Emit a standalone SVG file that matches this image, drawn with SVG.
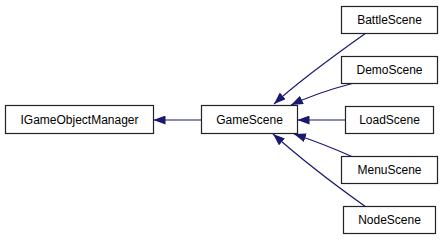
<svg xmlns="http://www.w3.org/2000/svg" width="443" height="240" viewBox="0 0 443 240">
  <defs>
    <marker id="arrow" viewBox="0 0 12 9" refX="12" refY="4.5" markerWidth="12" markerHeight="9" markerUnits="userSpaceOnUse" orient="auto">
      <path d="M0,0 L12,4.5 L0,9 Z" fill="#191970"/>
    </marker>
    <style>
      .box { fill: #ffffff; stroke: #222222; stroke-width: 1.2; }
      .label { font-family: "Liberation Sans", Arial, sans-serif; font-size: 12px; fill: #000000; text-anchor: middle; }
      .edge { fill: none; stroke: #191970; stroke-width: 1.2; marker-end: url(#arrow); }
    </style>
  </defs>
  <rect width="443" height="240" fill="#ffffff"/>

  <g id="edges">
    <path class="edge" d="M201,120 L153.5,120"/>
    <path class="edge" d="M366,33 C335,55 300,80 274,104"/>
    <path class="edge" d="M354,83 C335,88 310,96 291,105"/>
    <path class="edge" d="M345,120 L297.5,120"/>
    <path class="edge" d="M353,157 C335,149 312,140 294,134"/>
    <path class="edge" d="M366,207 C335,185 300,158 273,134"/>
  </g>

  <g id="IGameObjectManager">
    <rect class="box" x="5.5" y="105.5" width="148" height="28"/>
    <text class="label" x="79.5" y="124">IGameObjectManager</text>
  </g>
  <g id="GameScene">
    <rect class="box" x="201.5" y="105.5" width="96" height="28"/>
    <text class="label" x="249.5" y="124">GameScene</text>
  </g>
  <g id="BattleScene">
    <rect class="box" x="341.5" y="6.5" width="96" height="27"/>
    <text class="label" x="389.5" y="24">BattleScene</text>
  </g>
  <g id="DemoScene">
    <rect class="box" x="341.5" y="56.5" width="96" height="27"/>
    <text class="label" x="389.5" y="74">DemoScene</text>
  </g>
  <g id="LoadScene">
    <rect class="box" x="345.5" y="106.5" width="88" height="27"/>
    <text class="label" x="389.5" y="124">LoadScene</text>
  </g>
  <g id="MenuScene">
    <rect class="box" x="341.5" y="156.5" width="96" height="27"/>
    <text class="label" x="389.5" y="174">MenuScene</text>
  </g>
  <g id="NodeScene">
    <rect class="box" x="343.5" y="206.5" width="92" height="27"/>
    <text class="label" x="389.5" y="224">NodeScene</text>
  </g>
</svg>
